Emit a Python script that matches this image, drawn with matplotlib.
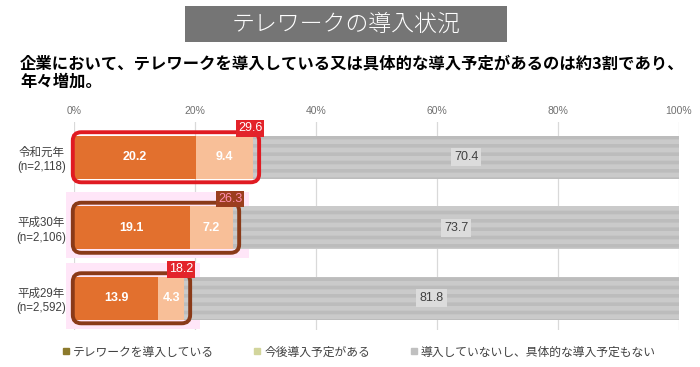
import matplotlib
matplotlib.use("Agg")
import matplotlib.pyplot as plt
from matplotlib.patches import FancyBboxPatch, Rectangle
from matplotlib.lines import Line2D

plt.rcParams['font.family'] = ['Noto Sans CJK JP', 'DejaVu Sans']

# ---- data ----
categories = ['令和元年\n(n=2,118)', '平成30年\n(n=2,106)', '平成29年\n(n=2,592)']
introduced = [20.2, 19.1, 13.9]
planned = [9.4, 7.2, 4.3]
not_planned = [70.4, 73.7, 81.8]
totals = [29.6, 26.3, 18.2]
series_names = ['テレワークを導入している', '今後導入予定がある', '導入していないし、具体的な導入予定もない']
xticks = [0, 20, 40, 60, 80, 100]
xtick_labels = ['0%', '20%', '40%', '60%', '80%', '100%']
title = 'テレワークの導入状況'
subtitle1 = '企業において、テレワークを導入している又は具体的な導入予定があるのは約3割であり、'
subtitle2 = '年々増加。'

# ---- styles ----
c_dark = '#E2702E'
c_light = '#F8BF98'
c_gray = '#CACACA'
c_gray_hatch = '#BCBCBC'
outline_colors = ['#E01B22', '#8A3A18', '#8A3A18']
box_colors = ['#E3232A', '#9B3E1E', '#E3232A']
box_text_colors = ['white', '#FF8FB0', 'white']
glow = [False, True, True]
legend_colors = ['#8C7A2C', '#D2D59C', '#C0C0C0']

W, H = 700, 367
fig = plt.figure(figsize=(7.0, 3.67), dpi=100)
fig.patch.set_facecolor('white')

ax = fig.add_axes([74 / W, 1 - 330 / H, 605 / W, 208 / H])
ax.set_xlim(0, 100)
ax.set_ylim(2.45, -0.5)

pos = list(range(len(categories)))
bh = 0.61
plt.rcParams['hatch.linewidth'] = 2.6

# glow backgrounds
for i, g in enumerate(glow):
    if g:
        ax.add_patch(Rectangle((-1.4, pos[i] - bh / 2 - 0.2), totals[i] + 4.0, bh + 0.33,
                               facecolor='#FFE6F8', edgecolor='none', zorder=0.5, clip_on=False))

ax.barh(pos, introduced, height=bh, color=c_dark, zorder=2, linewidth=0)
ax.barh(pos, planned, left=introduced, height=bh, color=c_light, zorder=2, linewidth=0)
ax.barh(pos, not_planned, left=totals, height=bh, color=c_gray, edgecolor=c_gray_hatch,
        hatch='--', linewidth=0, zorder=2)

for x in xticks:
    ax.axvline(x, color='#D9D9D9', lw=0.9, zorder=0)

# value labels
for i in pos:
    ax.text(introduced[i] / 2, i, f'{introduced[i]:.1f}', ha='center', va='center',
            color='white', fontsize=9, fontweight='bold', family=['Liberation Sans'], zorder=5)
    ax.text(introduced[i] + planned[i] / 2, i, f'{planned[i]:.1f}', ha='center', va='center',
            color='white', fontsize=9, fontweight='bold', family=['Liberation Sans'], zorder=5)
    ax.text(totals[i] + not_planned[i] / 2, i, f'{not_planned[i]:.1f}', ha='center', va='center',
            color='#404040', fontsize=9, family=['Liberation Sans'], zorder=5,
            bbox=dict(boxstyle='square,pad=0.25', facecolor='#DCDCDC', edgecolor='none'))

# rounded outlines
px_x = 605 / 100
px_y = 208 / 2.95
aspect = px_x / px_y
for i in pos:
    x0 = -0.2
    x1 = totals[i] + 1.0
    y0 = pos[i] - bh / 2 - 0.05
    y1 = pos[i] + bh / 2 + 0.05
    ax.add_patch(FancyBboxPatch((x0, y0), x1 - x0, y1 - y0,
                                boxstyle='round,pad=0,rounding_size=1.4',
                                mutation_aspect=aspect,
                                facecolor='none', edgecolor=outline_colors[i],
                                linewidth=2.8, zorder=4, clip_on=False))
    # total label box
    ax.text(totals[i] - 0.5, pos[i] - bh / 2 - 0.02, f'{totals[i]:.1f}', ha='center', va='bottom',
            color=box_text_colors[i], fontsize=9, family=['Liberation Sans'], zorder=6,
            bbox=dict(boxstyle='square,pad=0.18', facecolor=box_colors[i], edgecolor='none'))

ax.xaxis.tick_top()
ax.set_xticks(xticks, xtick_labels)
ax.tick_params(axis='x', length=0, pad=4, labelsize=7.5, labelcolor='#707070')
for lbl in ax.get_xticklabels():
    lbl.set_family(['Liberation Sans'])
ax.set_yticks(pos, categories)
ax.tick_params(axis='y', length=0, pad=6, labelsize=8.3, labelcolor='#404040')
for lbl in ax.get_yticklabels():
    lbl.set_multialignment('center')
    lbl.set_family(['Liberation Sans', 'Noto Sans CJK JP'])
    lbl.set_linespacing(1.3)
for s in ax.spines.values():
    s.set_visible(False)
ax.set_facecolor('none')

# title box
fig.patches.append(Rectangle((185 / W, 1 - 42 / H), 322 / W, 36 / H, transform=fig.transFigure,
                             facecolor='#757575', edgecolor='none'))
fig.text(346 / W, 1 - 24 / H, title, ha='center', va='center', color='white',
         fontsize=16.5, fontweight='light')

fig.text(20 / W, 1 - 63 / H, subtitle1, ha='left', va='center', fontsize=11.75,
         fontweight='bold', color='black')
fig.text(20 / W, 1 - 82 / H, subtitle2, ha='left', va='center', fontsize=11.75,
         fontweight='bold', color='black')

handles = [Line2D([], [], marker='s', linestyle='none', markersize=4.5, color=c)
           for c in legend_colors]
fig.legend(handles, series_names, loc='center', bbox_to_anchor=(359 / W, 1 - 352 / H), ncol=3,
           frameon=False, fontsize=8.5, labelcolor='#404040', handlelength=0.6,
           handletextpad=0.3, columnspacing=3.4)

fig.savefig('out.png', dpi=100)
